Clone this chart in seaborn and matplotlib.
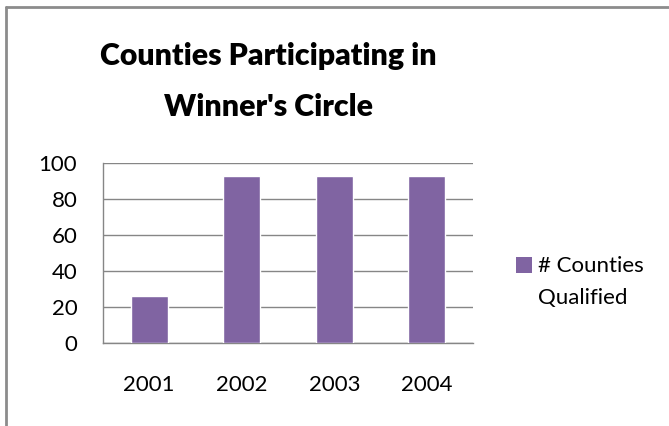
import matplotlib
matplotlib.use("Agg")
import matplotlib.pyplot as plt
import seaborn as sns
import pandas as pd
from matplotlib.lines import Line2D
from matplotlib.patches import Patch

years = ["2001", "2002", "2003", "2004"]
counties = [26, 93, 93, 93]
series_name = "# Counties\nQualified"
title = "Counties Participating in\nWinner's Circle"
y_ticks = [0, 20, 40, 60, 80, 100]

BAR = "#8064A2"
GRID = "#868686"

sns.set_theme(style="white")
plt.rcParams['font.family'] = ['Lato', 'DejaVu Sans']
plt.rcParams['text.color'] = 'black'

W, H = 669, 426
fig = plt.figure(figsize=(W / 100, H / 100), dpi=100)
ax = fig.add_axes([103 / W, 1 - 343 / H, 370 / W, 180 / H])

df = pd.DataFrame({"Year": years, "Counties": counties})
sns.barplot(data=df, x="Year", y="Counties", color=BAR, saturation=1,
            width=0.4, ax=ax, zorder=3)

ax.set_ylim(0, 100)
ax.set_xlim(-0.5, len(years) - 0.5)
ax.set_yticks(y_ticks)
ax.yaxis.grid(True, color=GRID, lw=1)
ax.xaxis.grid(False)
ax.set_axisbelow(True)
for s in ["top", "right"]:
    ax.spines[s].set_visible(False)
for s in ["left", "bottom"]:
    ax.spines[s].set_color(GRID)
    ax.spines[s].set_linewidth(1)
ax.set_xlabel("")
ax.set_ylabel("")
ax.tick_params(axis="y", length=0, pad=18.5, labelsize=16, labelcolor="black")
ax.tick_params(axis="x", length=0, pad=23, labelsize=16, labelcolor="black")

fig.text(268 / W, 1 - 82 / H, title, ha="center", va="center",
         fontsize=21.8, fontweight="heavy", linespacing=2.0, color="black")

handles = [Patch(facecolor=BAR, edgecolor="none")]
leg = fig.legend(handles, [series_name], loc="center left",
                 bbox_to_anchor=(505 / W, 1 - 282 / H), frameon=False,
                 fontsize=16, handlelength=0.7, handleheight=0.7,
                 handletextpad=0.3, borderpad=0, labelcolor="black")
leg.get_texts()[0].set_linespacing(1.7)
# lift the legend square to sit beside the first text line
h = leg.legend_handles[0]
h.set_y(h.get_y() + 12.5)

# chart border (only the left and top edges are within the image)
fig.add_artist(Line2D([6.5 / W, 6.5 / W], [0, 1 - 6.5 / H],
                      transform=fig.transFigure, color="#8c8c8c", lw=2))
fig.add_artist(Line2D([6.5 / W, 1], [1 - 6.5 / H, 1 - 6.5 / H],
                      transform=fig.transFigure, color="#8c8c8c", lw=2))

fig.savefig("out.png", dpi=100)
